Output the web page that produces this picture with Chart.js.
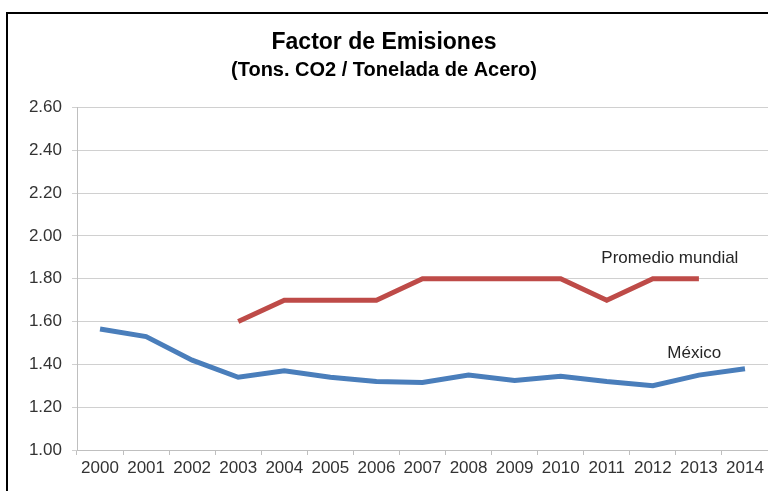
<!DOCTYPE html>
<html>
<head>
<meta charset="utf-8">
<script src="https://cdn.jsdelivr.net/npm/chart.js@4"></script>
<style>
  body { margin: 0; background: #fff; overflow: hidden; }
  #frame { position: absolute; left: 6px; top: 12px; width: 900px; height: 700px; border: 2px solid #000; }
  #wrap { position: absolute; left: 0; top: 0; width: 768px; height: 491px; }
</style>
</head>
<body>
<div id="frame"></div>
<div id="wrap"><canvas id="emisionesChart"></canvas></div>
<script>
// years on the x axis
const years = ['2000', '2001', '2002', '2003', '2004', '2005', '2006', '2007',
               '2008', '2009', '2010', '2011', '2012', '2013', '2014'];

// tons of CO2 per ton of steel
const mexico = [1.565, 1.53, 1.42, 1.34, 1.37, 1.34, 1.32, 1.315, 1.35, 1.325, 1.345, 1.32, 1.30, 1.35, 1.38];
const promedioMundial = [null, null, null, 1.60, 1.70, 1.70, 1.70, 1.80, 1.80, 1.80, 1.80, 1.70, 1.80, 1.80, null];

// text labels placed next to each line (x = category index, y = value)
const lineLabels = [
    { text: 'Promedio mundial', x: 12.37, y: 1.894 },
    { text: 'México', x: 12.9, y: 1.454 }
];

const fontFamily = '"Liberation Sans", Arial, sans-serif';

// draws the series names inside the plot
const lineLabelPlugin = {
    id: 'lineLabels',
    afterDatasetsDraw(chart) {
        const { ctx, scales } = chart;
        ctx.save();
        ctx.font = '17px ' + fontFamily;
        ctx.fillStyle = '#262626';
        ctx.textAlign = 'center';
        ctx.textBaseline = 'middle';
        lineLabels.forEach(l => {
            ctx.fillText(l.text, scales.x.getPixelForValue(l.x), scales.y.getPixelForValue(l.y));
        });
        ctx.restore();
    }
};

const ctx = document.getElementById('emisionesChart').getContext('2d');
const emisionesChart = new Chart(ctx, {
    type: 'line',
    data: {
        labels: years,
        datasets: [{
            label: 'México',
            data: mexico,
            borderColor: '#4a7ebb',
            borderWidth: 5,
            pointRadius: 0,
            tension: 0,
            fill: false
        }, {
            label: 'Promedio mundial',
            data: promedioMundial,
            borderColor: '#be4b48',
            borderWidth: 5,
            pointRadius: 0,
            tension: 0,
            fill: false
        }]
    },
    options: {
        responsive: true,
        maintainAspectRatio: false,
        animation: false,
        layout: { padding: { left: 0, right: 0, top: 0, bottom: 0 } },
        plugins: {
            legend: { display: false },
            tooltip: { enabled: false },
            title: {
                display: true,
                text: 'Factor de Emisiones',
                color: '#000',
                font: { family: fontFamily, size: 23, weight: 'bold' },
                padding: { top: 29, bottom: 2 }
            },
            subtitle: {
                display: true,
                text: '(Tons. CO2 / Tonelada de Acero)',
                color: '#000',
                font: { family: fontFamily, size: 20, weight: 'bold' },
                padding: { top: 0, bottom: 25 }
            }
        },
        scales: {
            x: {
                offset: true,
                afterFit(scale) { scale.height = 41; },
                grid: {
                    display: true,
                    drawOnChartArea: false,
                    offset: true,
                    tickLength: 5,
                    color: '#bfbfbf'
                },
                border: { color: '#bfbfbf' },
                ticks: {
                    color: '#333',
                    padding: 3,
                    maxRotation: 0,
                    autoSkip: false,
                    font: { family: fontFamily, size: 17 }
                }
            },
            y: {
                min: 1.0,
                max: 2.6,
                afterFit(scale) { scale.width = 77; },
                grid: { color: '#d0d0d0', tickLength: 5 },
                border: { color: '#bfbfbf' },
                ticks: {
                    stepSize: 0.2,
                    color: '#333',
                    padding: 10,
                    font: { family: fontFamily, size: 17 },
                    callback: v => v.toFixed(2)
                }
            }
        }
    },
    plugins: [lineLabelPlugin]
});
</script>
</body>
</html>
